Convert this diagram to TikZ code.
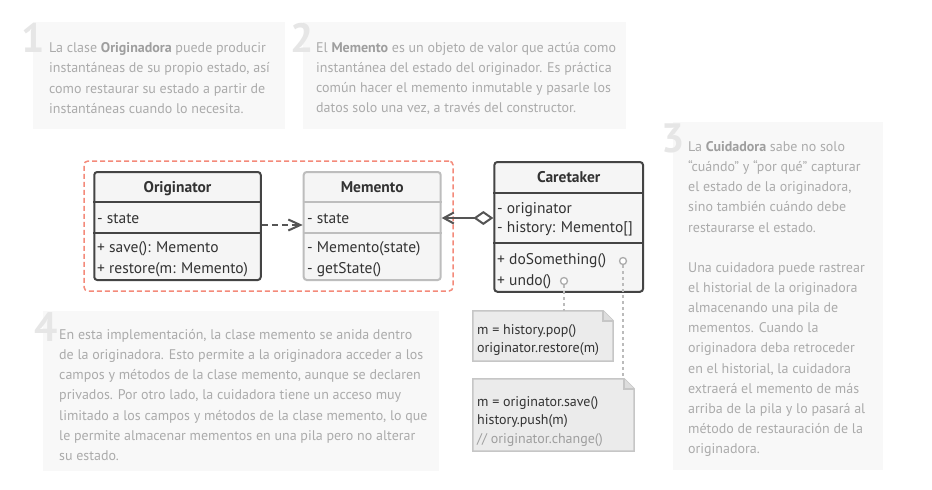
\documentclass[tikz,border=0pt]{standalone}
\usepackage{fontspec}
\setmainfont{PT Sans}
\usetikzlibrary{arrows.meta,backgrounds}
\definecolor{notebg}{HTML}{F8F8F8}
\definecolor{notetx}{HTML}{ABABAB}
\definecolor{notebold}{HTML}{9E9E9E}
\definecolor{digitc}{HTML}{E6E6E6}
\definecolor{darkc}{HTML}{444444}
\definecolor{arrowc}{HTML}{555555}
\definecolor{litec}{HTML}{BDBDBD}
\definecolor{boxfill}{HTML}{F5F5F5}
\definecolor{salmon}{HTML}{F48A7A}
\definecolor{codebg}{HTML}{EBEBEB}
\definecolor{codeline}{HTML}{C6C6C6}
\definecolor{codetx}{HTML}{333333}
\definecolor{dotc}{HTML}{BBBBBB}
\newcommand{\nb}[1]{\textcolor{notebold}{\bfseries #1}}
\newcommand{\firststrut}{\rule{0pt}{12pt}}
\begin{document}
\begin{tikzpicture}[x=1pt,y=-1pt,
  notebox/.style={fill=notebg, draw=none},
  digitnum/.style={font=\fontsize{41}{41}\selectfont\bfseries, text=digitc, inner sep=0pt, anchor=base east},
  notetext/.style={font=\fontsize{14}{20.2}\selectfont, text=notetx, inner sep=0pt, anchor=north west, align=left},
  umlbox/.style={rectangle, rounded corners=3pt, line width=2pt, fill=boxfill, inner sep=0pt},
  umltext/.style={font=\fontsize{15.5}{18}\selectfont, text=codetx, inner sep=0pt, anchor=base west},
  umlhead/.style={font=\fontsize{15.5}{18}\selectfont\bfseries, text=codetx, inner sep=0pt, anchor=base},
  codebox/.style={rectangle, draw=none, inner sep=0pt},
  codetext/.style={font=\fontsize{14}{18.6}\selectfont, text=codetx, inner sep=0pt, anchor=north west, align=left},
  codeshape/.style={fill=codebg, draw=codeline, line width=1.5pt},
  dotline/.style={draw=dotc, line width=2pt, dash pattern=on 3pt off 3pt},
  pin/.style={circle, draw=notetx, fill=white, line width=1.3pt, minimum size=7pt, inner sep=0pt}
]
\useasboundingbox (0,0) rectangle (932,490);
\fill[white] (0,0) rectangle (932,490);

% ---- notes (backgrounds)
\fill[notebox] (33,22) rectangle (285,129);
\fill[notebox] (303,22) rectangle (626,129);
\fill[notebox] (673,122) rectangle (883,470);
\fill[notebox] (43,311) rectangle (439,471);

\node[digitnum] (d1) at (45,52) {1};
\node[digitnum] (d2) at (314,52) {2};
\node[digitnum] (d3) at (685,152) {3};
\node[digitnum] (d4) at (58,341) {4};

\node[notetext] (t1) at (49,40.5) {\firststrut La clase \nb{Originadora} puede producir\\
instantáneas de su propio estado, así\\
como restaurar su estado a partir de\\
instantáneas cuando lo necesita.};

\node[notetext] (t2) at (316,40) {\firststrut El \nb{Memento} es un objeto de valor que actúa como\\
instantánea del estado del originador. Es práctica\\
común hacer el memento inmutable y pasarle los\\
datos solo una vez, a través del constructor.};

\node[notetext] (t3) at (688,139) {\firststrut La \nb{Cuidadora} sabe no solo\\
“cuándo” y “por qué” capturar\\
el estado de la originadora,\\
sino también cuándo debe\\
restaurarse el estado.\\[19.8pt]
Una cuidadora puede rastrear\\
el historial de la originadora\\
almacenando una pila de\\
mementos. Cuando la\\
originadora deba retroceder\\
en el historial, la cuidadora\\
extraerá el memento de más\\
arriba de la pila y lo pasará al\\
método de restauración de la\\
originadora.};

\node[notetext] (t4) at (59,327) {\firststrut En esta implementación, la clase memento se anida dentro\\
de la originadora. Esto permite a la originadora acceder a los\\
campos y métodos de la clase memento, aunque se declaren\\
privados. Por otro lado, la cuidadora tiene un acceso muy\\
limitado a los campos y métodos de la clase memento, lo que\\
le permite almacenar mementos en una pila pero no alterar\\
su estado.};

% ---- dashed group frame
\node[draw=salmon, line width=1.5pt, dash pattern=on 5pt off 3pt, rounded corners=4pt,
      minimum width=369pt, minimum height=130pt, inner sep=0pt] (group) at (268.5,226) {};

% ---- Originator
\node[umlbox, draw=darkc, minimum width=166.5pt, minimum height=108pt] (orig) at (177.5,226) {};
\draw[darkc, line width=2pt] (orig.west |- 0,201.7) -- (orig.east |- 0,201.7);
\draw[darkc, line width=2pt] (orig.west |- 0,233.3) -- (orig.east |- 0,233.3);
\node[umlhead] (origname) at (177.5,192) {Originator};
\node[umltext] (origattr) at (97,223) {- state};
\node[umltext] (origop1) at (97,252) {+ save(): Memento};
\node[umltext] (origop2) at (97,273) {+ restore(m: Memento)};

% ---- Memento
\node[umlbox, draw=litec, minimum width=137pt, minimum height=108pt] (mem) at (372.2,226) {};
\draw[litec, line width=2pt] (mem.west |- 0,201.7) -- (mem.east |- 0,201.7);
\draw[litec, line width=2pt] (mem.west |- 0,233.3) -- (mem.east |- 0,233.3);
\node[umlhead] (memname) at (372.2,192) {Memento};
\node[umltext] (memattr) at (307,223) {- state};
\node[umltext] (memop1) at (307,252) {- Memento(state)};
\node[umltext] (memop2) at (307,273) {- getState()};

% ---- Caretaker
\node[umlbox, draw=darkc, minimum width=148.7pt, minimum height=129.7pt] (care) at (568.7,226.9) {};
\draw[darkc, line width=2pt] (care.west |- 0,193.3) -- (care.east |- 0,193.3);
\draw[darkc, line width=2pt] (care.west |- 0,243.3) -- (care.east |- 0,243.3);
\node[umlhead] (carename) at (568.7,182) {Caretaker};
\node[umltext] (careattr1) at (497,213.5) {- originator};
\node[umltext] (careattr2) at (497,232) {- history: Memento[]};
\node[umltext] (careop1) at (497,264.5) {+ doSomething()};
\node[umltext] (careop2) at (497,285.5) {+ undo()};

% ---- connectors
\draw[arrowc, line width=2pt, dash pattern=on 6pt off 4pt, -{Straight Barb[length=12pt,width=11pt,line width=2pt]}]
  ([yshift=1pt]orig.east) -- ([yshift=1pt]mem.west);
\draw[arrowc, line width=2pt, {Straight Barb[length=10pt,width=11pt,line width=2pt]}-{Diamond[open,length=20pt,width=14pt,line width=2pt,fill=white]}]
  ([yshift=8pt]mem.east) -- ([yshift=8.9pt]care.west);

% ---- code notes
\node[codebox, minimum width=140pt, minimum height=50pt] (noteA) at (543,336) {};
\node[codebox, minimum width=161pt, minimum height=72pt] (noteB) at (553.5,415) {};
\foreach \n in {noteA,noteB}{
  \path[codeshape] (\n.north west) -- ([xshift=-10pt]\n.north east) -- ([yshift=-10pt]\n.north east)
    -- (\n.south east) -- (\n.south west) -- cycle;
  \draw[codeline, line width=1.5pt, fill=codeline!60] ([xshift=-10pt]\n.north east) -- ([xshift=-10pt,yshift=-10pt]\n.north east) -- ([yshift=-10pt]\n.north east);
}
\node[codetext] (noteAtext) at (477,322) {\firststrut m = history.pop()\\originator.restore(m)};
\node[codetext] (noteBtext) at (477,394) {\firststrut m = originator.save()\\history.push(m)\\\textcolor{notebold}{// originator.change()}};

\node[pin] (pin1) at (623,261) {};
\node[pin] (pin2) at (564,281) {};
\draw[dotline] (pin1.south) -- (pin1.south |- noteB.north);
\draw[dotline] (pin2.south) -- (pin2.south |- noteA.north);
\end{tikzpicture}
\end{document}
